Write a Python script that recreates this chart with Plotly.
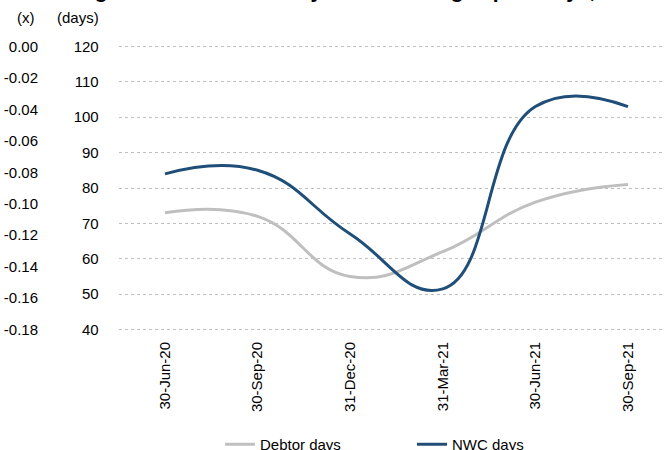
import plotly.graph_objects as go

# ---- data ----
categories = ["30-Jun-20", "30-Sep-20", "31-Dec-20", "31-Mar-21", "30-Jun-21", "30-Sep-21"]
debtor_days = [73, 72, 55, 62, 76, 81]
nwc_days = [84, 85, 67, 51.5, 103, 103]
days_ticks = [40, 50, 60, 70, 80, 90, 100, 110, 120]
x_ticks = [0.00, -0.02, -0.04, -0.06, -0.08, -0.10, -0.12, -0.14, -0.16, -0.18]
x_tick_labels = ["0.00", "-0.02", "-0.04", "-0.06", "-0.08", "-0.10", "-0.12", "-0.14", "-0.16", "-0.18"]
title_text = "Figure 8: Receivable days and working capital days, debtor and NWC days trend qoq app"

W, H = 664, 450
FONT = "Liberation Sans, Arial, sans-serif"
FS = 15
plot_left = 118.7
y120_px, y40_px = 46.7, 329.5
ppu = (y40_px - y120_px) / 80.0
pad_u = 0.4
plot_top = y120_px - pad_u * ppu
plot_bottom = y40_px + pad_u * ppu
plot_h = plot_bottom - plot_top

fig = go.Figure()
fig.add_trace(go.Scatter(
    x=categories, y=debtor_days, name="Debtor days", mode="lines",
    line=dict(color="#bfbfbf", width=3, shape="spline", smoothing=1.3),
))
fig.add_trace(go.Scatter(
    x=categories, y=nwc_days, name="NWC days", mode="lines",
    line=dict(color="#1f4e79", width=3, shape="spline", smoothing=1.3),
))
# empty trace to carry the secondary (x) axis
fig.add_trace(go.Scatter(
    x=categories, y=[None] * len(categories), yaxis="y2", showlegend=False,
    mode="lines", hoverinfo="skip",
))

fig.update_layout(
    width=W, height=H,
    margin=dict(l=0, r=0, t=plot_top, b=H - plot_bottom, pad=0, autoexpand=False),
    paper_bgcolor="white", plot_bgcolor="white",
    font=dict(family=FONT, size=FS, color="#000000"),
    xaxis=dict(
        type="category", categoryorder="array", categoryarray=categories,
        domain=[plot_left / W, 1.0],
        range=[-0.5, (664 - 165) / 92.6],
        tickangle=-90, tickfont=dict(size=FS),
        ticks="outside", ticklen=4, tickcolor="rgba(0,0,0,0)",
        showline=False, showgrid=False, zeroline=False, automargin=False,
    ),
    yaxis=dict(
        range=[40 - pad_u, 120 + pad_u], tickvals=days_ticks,
        showgrid=True, gridcolor="#bfbfbf", gridwidth=1, griddash="dot",
        zeroline=False, showline=False,
        ticks="outside", ticklen=16, tickcolor="rgba(0,0,0,0)",
        tickfont=dict(size=FS), automargin=False,
    ),
    yaxis2=dict(
        overlaying="y", anchor="free", position=38 / W, side="left",
        range=[-0.18 - 0.18 * pad_u / 80, 0.18 * pad_u / 80], tickvals=x_ticks, ticktext=x_tick_labels,
        showgrid=False, zeroline=False, showline=False,
        ticks="", tickfont=dict(size=FS), automargin=False,
    ),
    legend=dict(
        orientation="h", xref="container", yref="container",
        x=220 / W, xanchor="left",
        y=1 - 428 / H, yanchor="top",
        entrywidth=147, entrywidthmode="pixels",
        font=dict(size=FS), bgcolor="rgba(0,0,0,0)",
    ),
    showlegend=True,
)

fig.add_annotation(text="(x)", xref="paper", yref="paper", x=26 / W, y=1 + (plot_top - 18) / plot_h,
                   xanchor="center", yanchor="middle", showarrow=False, font=dict(size=FS))
fig.add_annotation(text="(days)", xref="paper", yref="paper", x=78 / W, y=1 + (plot_top - 18) / plot_h,
                   xanchor="center", yanchor="middle", showarrow=False, font=dict(size=FS))
fig.add_annotation(text="<b>" + title_text + "</b>", xref="paper", yref="paper", x=74 / W, y=1,
                   xanchor="left", yanchor="bottom", yshift=plot_top - 4.5, showarrow=False,
                   font=dict(size=21))

fig.write_html("out.html")
